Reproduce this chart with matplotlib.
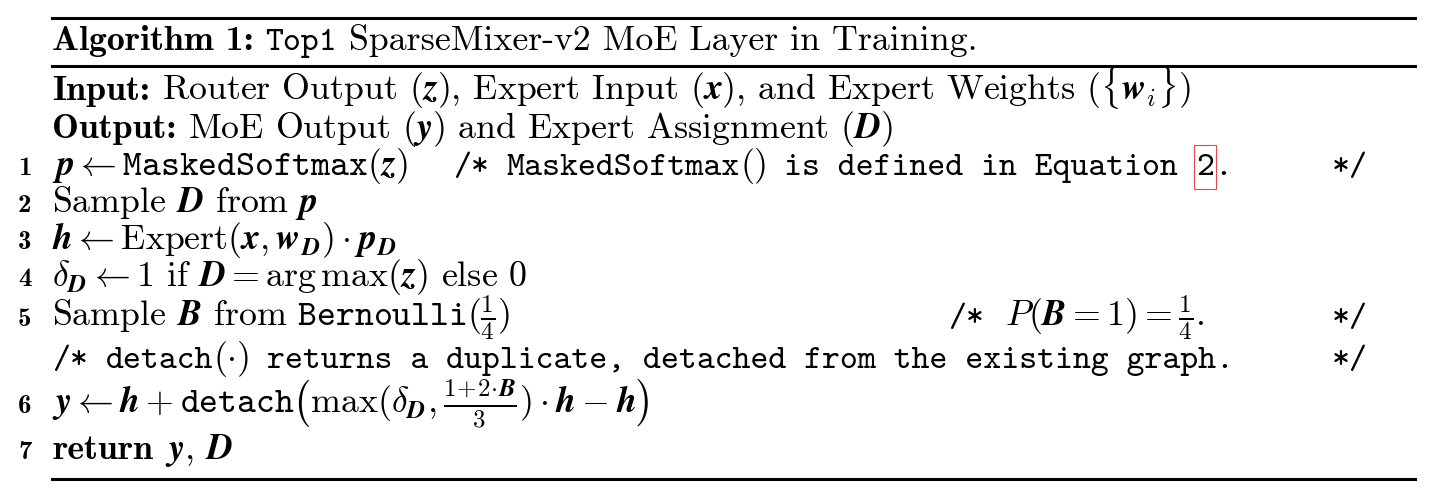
import matplotlib
matplotlib.use("Agg")
import matplotlib.pyplot as plt
from matplotlib.lines import Line2D
from matplotlib.patches import Rectangle

W, H = 1438, 492
FS = 25.8          # roman text size
TS = FS * 0.953    # typewriter text size
RM, BF, TT = "cmr10", "cmb10", "cmtt10"

# algorithm text
TITLE = [("Algorithm 1:", BF), ("Top1", TT), ("SparseMixer-v2 MoE Layer in Training.", RM)]
INPUT = r"Router Output ($\mathbfit{z}$), Expert Input ($\mathbfit{x}$), and Expert Weights ($\{\mathbfit{w}_i\}$)"
OUTPUT = r"MoE Output ($\mathbfit{y}$) and Expert Assignment ($\mathbfit{D}$)"
STEP_NUMBERS = ["1", "2", "3", "4", "5", "", "6", "7"]
STEPS = [
    r"$\mathbfit{p} \leftarrow \mathtt{MaskedSoftmax}(\mathbfit{z})$",
    r"Sample $\mathbfit{D}$ from $\mathbfit{p}$",
    r"$\mathbfit{h} \leftarrow \mathrm{Expert}(\mathbfit{x}, \mathbfit{w}_{\mathbfit{D}}) \cdot \mathbfit{p}_{\mathbfit{D}}$",
    r"$\delta_{\mathbfit{D}} \leftarrow 1$ if $\mathbfit{D} = \arg\max(\mathbfit{z})$ else 0",
    r"Sample $\mathbfit{B}$ from $\mathtt{Bernoulli}(\frac{1}{4})$",
    None,
    r"$\mathbfit{y} \leftarrow \mathbfit{h} + \mathtt{detach}\left(\max(\delta_{\mathbfit{D}}, \frac{1\!+\!2\!\cdot\!\mathbfit{B}}{3}) \cdot \mathbfit{h} - \mathbfit{h}\right)$",
    None,
]
STEP_Y = [175, 212, 249, 286, 326, 368, 413, 459]
COMMENT_X = {0: 453, 4: 948, 5: 52}

plt.rcParams["mathtext.fontset"] = "cm"
plt.rcParams["font.family"] = RM

fig = plt.figure(figsize=(W / 100, H / 100), dpi=100)
renderer = fig.canvas.get_renderer()


def put(x, y, s, fam=RM, size=None):
    if size is None:
        size = TS if fam == TT else FS
    t = fig.text(x / W, 1 - y / H, s, fontfamily=fam, fontsize=size,
                 va="baseline", ha="left")
    return t.get_window_extent(renderer)


def seq(x, y, parts):
    """Draw parts left to right; a number means a gap in em."""
    em = FS * 100 / 72
    boxes = []
    for p in parts:
        if isinstance(p, (int, float)):
            x += p * em
            continue
        bb = put(x, y, p[0], p[1])
        boxes.append(bb)
        x = bb.x1
    return boxes


def rule(y, lw=2.2):
    fig.add_artist(Line2D([52 / W, 1415 / W], [1 - y / H, 1 - y / H],
                          color="black", lw=lw, transform=fig.transFigure))


rule(17.5)
rule(66)
rule(479)

SP, TSP = 0.333, 0.5
seq(52, 50, [TITLE[0], SP, TITLE[1], SP, TITLE[2]])
seq(52, 100, [("Input:", BF), SP, (INPUT, RM)])
seq(52, 138, [("Output:", BF), SP, (OUTPUT, RM)])

for num, step, y in zip(STEP_NUMBERS, STEPS, STEP_Y):
    if num:
        put(18, y, num, BF, FS * 0.75)
    if step:
        put(52, y, step)

# line 7
seq(52, STEP_Y[7], [("return", BF), SP, (r"$\mathbfit{y}$, $\mathbfit{D}$", RM)])

# comments
y1 = STEP_Y[0]
boxes = seq(COMMENT_X[0], y1, [("/*", TT), TSP, ("MaskedSoftmax", TT), (r"$()$", RM), TSP,
                               ("is defined in Equation", TT), TSP, ("2", TT), (".", TT)])
b2 = boxes[-2]
fig.add_artist(Rectangle((b2.x0 - 2, H - 189), b2.width + 4, 44, fill=False,
                         edgecolor="#e8474a", lw=0.8, transform=None))
put(1332, y1, "*/", TT)

y5 = STEP_Y[4]
seq(COMMENT_X[4], y5, [("/*", TT), 0.6, (r"$P(\mathbfit{B} = 1) = \frac{1}{4}$.", RM)])
put(1332, y5, "*/", TT)

yc = STEP_Y[5]
seq(COMMENT_X[5], yc, [("/*", TT), TSP, ("detach", TT), (r"$(\cdot)$", RM), TSP,
                       ("returns a duplicate, detached from the existing graph.", TT)])
put(1332, yc, "*/", TT)

fig.savefig("out.png", dpi=100)
